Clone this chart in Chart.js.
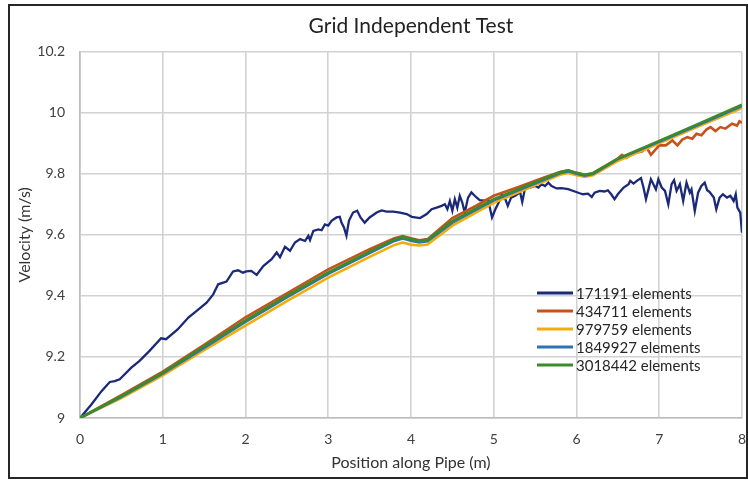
<!DOCTYPE html>
<html>
<head>
<meta charset="utf-8">
<title>Grid Independent Test</title>
<script src="https://cdn.jsdelivr.net/npm/chart.js@4.4.0/dist/chart.umd.min.js"></script>
<style>
  html, body { margin: 0; padding: 0; background: #fff; }
  #frame { position: absolute; left: 8px; top: 4px; width: 736px; height: 471px; border: 2px solid #262626; }
  canvas { display: block; }
</style>
</head>
<body>
<div id="frame"><canvas id="gridChart" width="736" height="471"></canvas></div>
<script>
// series names + colours
const seriesLabels = ['171191 elements', '434711 elements', '979759 elements', '1849927 elements', '3018442 elements'];
const seriesColors = ['#1b2a78', '#c4531c', '#f2ad0c', '#2f73b5', '#3b8a2c'];

// axis ticks
const xTicks = [0, 1, 2, 3, 4, 5, 6, 7, 8];
const yTicks = [9, 9.2, 9.4, 9.6, 9.8, 10, 10.2];

// coarsest mesh (noisy)
const navyX = [
  0, 0.14, 0.26, 0.36, 0.42, 0.48, 0.62, 0.72, 0.84, 0.98,
  1.04, 1.18, 1.31, 1.41, 1.53, 1.61, 1.67, 1.77, 1.85, 1.91,
  1.97, 2.01, 2.07, 2.135, 2.215, 2.316, 2.377, 2.417, 2.477, 2.538,
  2.598, 2.66, 2.72, 2.76, 2.78, 2.82, 2.88, 2.92, 2.96, 3.0,
  3.04, 3.1, 3.14, 3.16, 3.19, 3.22, 3.25, 3.3, 3.35, 3.39,
  3.44, 3.5, 3.585, 3.645, 3.705, 3.786, 3.867, 3.948, 4.01, 4.11,
  4.19, 4.25, 4.31, 4.37, 4.41, 4.44, 4.47, 4.5, 4.53, 4.56,
  4.59, 4.62, 4.65, 4.69, 4.73, 4.77, 4.83, 4.89, 4.93, 4.98,
  5.02, 5.06, 5.1, 5.14, 5.17, 5.21, 5.26, 5.32, 5.345, 5.38,
  5.44, 5.5, 5.54, 5.58, 5.62, 5.66, 5.7, 5.76, 5.82, 5.9,
  5.98, 6.03, 6.08, 6.14, 6.185, 6.22, 6.28, 6.34, 6.38, 6.42,
  6.46, 6.5, 6.57, 6.63, 6.65, 6.69, 6.73, 6.78, 6.81, 6.84,
  6.87, 6.9, 6.93, 6.96, 6.99, 7.03, 7.07, 7.11, 7.15, 7.18,
  7.21, 7.25, 7.29, 7.33, 7.37, 7.39, 7.43, 7.47, 7.51, 7.55,
  7.58, 7.61, 7.66, 7.69, 7.73, 7.77, 7.82, 7.86, 7.9, 7.925,
  7.945, 7.98, 8.0
];
const navyY = [
  9.0, 9.045, 9.088, 9.118, 9.121, 9.127, 9.165, 9.187, 9.22, 9.261,
  9.258, 9.29, 9.329, 9.351, 9.378, 9.405, 9.438, 9.447, 9.48, 9.484,
  9.476, 9.48, 9.482, 9.469, 9.498, 9.52, 9.542, 9.527, 9.561, 9.548,
  9.575, 9.586, 9.58, 9.597, 9.583, 9.613, 9.618, 9.615, 9.634, 9.63,
  9.646, 9.657, 9.659, 9.64, 9.624, 9.597, 9.646, 9.673, 9.679, 9.657,
  9.64, 9.657, 9.673, 9.68, 9.676, 9.676, 9.673, 9.668, 9.659, 9.655,
  9.668, 9.684, 9.689, 9.695, 9.7, 9.684, 9.711, 9.679, 9.717, 9.689,
  9.728, 9.706, 9.673, 9.722, 9.739, 9.728, 9.714, 9.712, 9.717, 9.657,
  9.684, 9.706, 9.733, 9.717, 9.695, 9.722, 9.728, 9.739, 9.708, 9.755,
  9.755, 9.76, 9.755, 9.766, 9.76, 9.771, 9.76, 9.752, 9.753, 9.75,
  9.742, 9.737, 9.733, 9.735, 9.724, 9.738, 9.744, 9.742, 9.746, 9.733,
  9.717, 9.733, 9.755, 9.766, 9.777, 9.768, 9.777, 9.786, 9.755, 9.717,
  9.749, 9.782, 9.766, 9.749, 9.782, 9.755, 9.744, 9.7, 9.766, 9.779,
  9.744, 9.766, 9.711, 9.771, 9.738, 9.749, 9.678, 9.738, 9.76, 9.771,
  9.746, 9.74, 9.722, 9.684, 9.722, 9.733, 9.722, 9.728, 9.711, 9.733,
  9.689, 9.673, 9.607
];

// second mesh, goes wobbly past ~6.5 m
const orangeX = [
  0, 0.5, 1, 1.5, 2, 2.5, 3, 3.5, 3.8, 3.9, 4.0, 4.1, 4.2,
  4.5, 4.8, 5, 5.3, 5.6, 5.8, 5.9, 6.0, 6.1, 6.2,
  6.5, 6.55, 6.6, 6.7, 6.79, 6.85, 6.9, 7.0, 7.08, 7.16,
  7.22, 7.28, 7.34, 7.4, 7.45, 7.51, 7.57, 7.62, 7.68, 7.74,
  7.8, 7.88, 7.94, 7.97, 8
];
const orangeY = [
  9.0, 9.075, 9.152, 9.24, 9.33, 9.408, 9.487, 9.553, 9.589, 9.596, 9.589, 9.582, 9.586,
  9.655, 9.697, 9.728, 9.757, 9.787, 9.806, 9.811, 9.803, 9.797, 9.802,
  9.85, 9.862, 9.852, 9.868, 9.873, 9.885, 9.862, 9.893, 9.893, 9.909,
  9.893, 9.912, 9.92, 9.915, 9.931, 9.926, 9.945, 9.953, 9.94, 9.953,
  9.948, 9.964, 9.958, 9.972, 9.967
];

// finer meshes share the same positions
const smoothX = [0, 0.5, 1, 1.5, 2, 2.5, 3, 3.5, 3.8, 3.9, 4.0, 4.1, 4.2, 4.5, 5, 5.5, 5.8, 5.9, 6.0, 6.1, 6.2, 6.5, 7, 7.5, 8];
const yellowY = [9.0, 9.065, 9.14, 9.222, 9.303, 9.383, 9.46, 9.528, 9.567, 9.575, 9.568, 9.565, 9.568, 9.63, 9.705, 9.762, 9.797, 9.803, 9.795, 9.79, 9.795, 9.842, 9.9, 9.958, 10.015];
const blueY   = [9.0, 9.069, 9.145, 9.23, 9.315, 9.395, 9.472, 9.54, 9.58, 9.588, 9.581, 9.575, 9.579, 9.64, 9.713, 9.768, 9.802, 9.808, 9.8, 9.794, 9.799, 9.848, 9.905, 9.963, 10.022];
const greenY  = [9.0, 9.072, 9.148, 9.235, 9.32, 9.4, 9.477, 9.545, 9.585, 9.593, 9.586, 9.58, 9.584, 9.645, 9.717, 9.772, 9.805, 9.811, 9.803, 9.797, 9.802, 9.85, 9.908, 9.967, 10.026];

function pts(xs, ys) {
    let out = [];
    for (let i = 0; i < Math.min(xs.length, ys.length); i++) out.push({ x: xs[i], y: ys[i] });
    return out;
}

const seriesPoints = [
    pts(navyX, navyY),
    pts(orangeX, orangeY),
    pts(smoothX, yellowY),
    pts(smoothX, blueY),
    pts(smoothX, greenY)
];

Chart.defaults.font.family = 'Lato, "Open Sans", sans-serif';

// legend sits inside the plot, bottom right like the excel one
const insideLegend = {
    id: 'insideLegend',
    afterDraw(chart) {
        const ctx = chart.ctx;
        const x0 = 527, y0 = 287, rowH = 18;
        ctx.save();
        ctx.font = '15px Lato, "Open Sans", sans-serif';
        ctx.textBaseline = 'middle';
        ctx.textAlign = 'left';
        chart.data.datasets.forEach((ds, i) => {
            const y = y0 + i * rowH;
            ctx.strokeStyle = ds.borderColor;
            ctx.lineWidth = 3;
            ctx.beginPath();
            ctx.moveTo(x0, y);
            ctx.lineTo(x0 + 36, y);
            ctx.stroke();
            ctx.fillStyle = '#262626';
            ctx.fillText(ds.label, x0 + 39, y + 1);
        });
        ctx.restore();
    }
};

const datasets = seriesLabels.map((name, i) => ({
    label: name,
    data: seriesPoints[i],
    borderColor: seriesColors[i],
    backgroundColor: seriesColors[i],
    borderWidth: i === 0 ? 2.3 : 2.6,
    pointRadius: 0,
    tension: 0,
    order: seriesLabels.length - i
}));

new Chart(document.getElementById('gridChart'), {
    type: 'line',
    data: { datasets: datasets },
    options: {
        responsive: false,
        animation: false,
        layout: { padding: { left: 0, right: 4, top: 0, bottom: 0 } },
        plugins: {
            legend: { display: false },
            tooltip: { enabled: false },
            title: {
                display: true,
                fullSize: false,
                text: 'Grid Independent Test',
                color: '#222',
                font: { size: 21, weight: 'normal' },
                padding: { top: 8, bottom: 12.5 }
            }
        },
        scales: {
            x: {
                type: 'linear',
                min: 0,
                max: 8,
                afterFit: s => { s.height = 59; },
                afterBuildTicks: s => { s.ticks = xTicks.map(v => ({ value: v })); },
                grid: { color: '#d2d2d2', lineWidth: 1.6, drawTicks: true, tickLength: 13, tickColor: 'rgba(0,0,0,0)' },
                border: { color: '#bdbdbd', width: 1.6 },
                ticks: { color: '#404040', font: { size: 14 }, padding: 0 },
                title: {
                    display: true,
                    text: 'Position along Pipe (m)',
                    color: '#333',
                    font: { size: 16 },
                    padding: { top: 0, bottom: 4.5 }
                }
            },
            y: {
                type: 'linear',
                min: 9,
                max: 10.2,
                afterFit: s => { s.width = 70; },
                afterBuildTicks: s => { s.ticks = yTicks.map(v => ({ value: v })); },
                grid: { color: '#d2d2d2', lineWidth: 1.6, drawTicks: false },
                border: { color: '#bdbdbd', width: 1.6 },
                ticks: {
                    color: '#404040',
                    font: { size: 14 },
                    padding: 15,
                    callback: v => String(Math.round(v * 10) / 10)
                },
                title: {
                    display: true,
                    text: 'Velocity (m/s)',
                    color: '#333',
                    font: { size: 16 },
                    padding: { top: 5.5, bottom: 0 }
                }
            }
        }
    },
    plugins: [insideLegend]
});
</script>
</body>
</html>
